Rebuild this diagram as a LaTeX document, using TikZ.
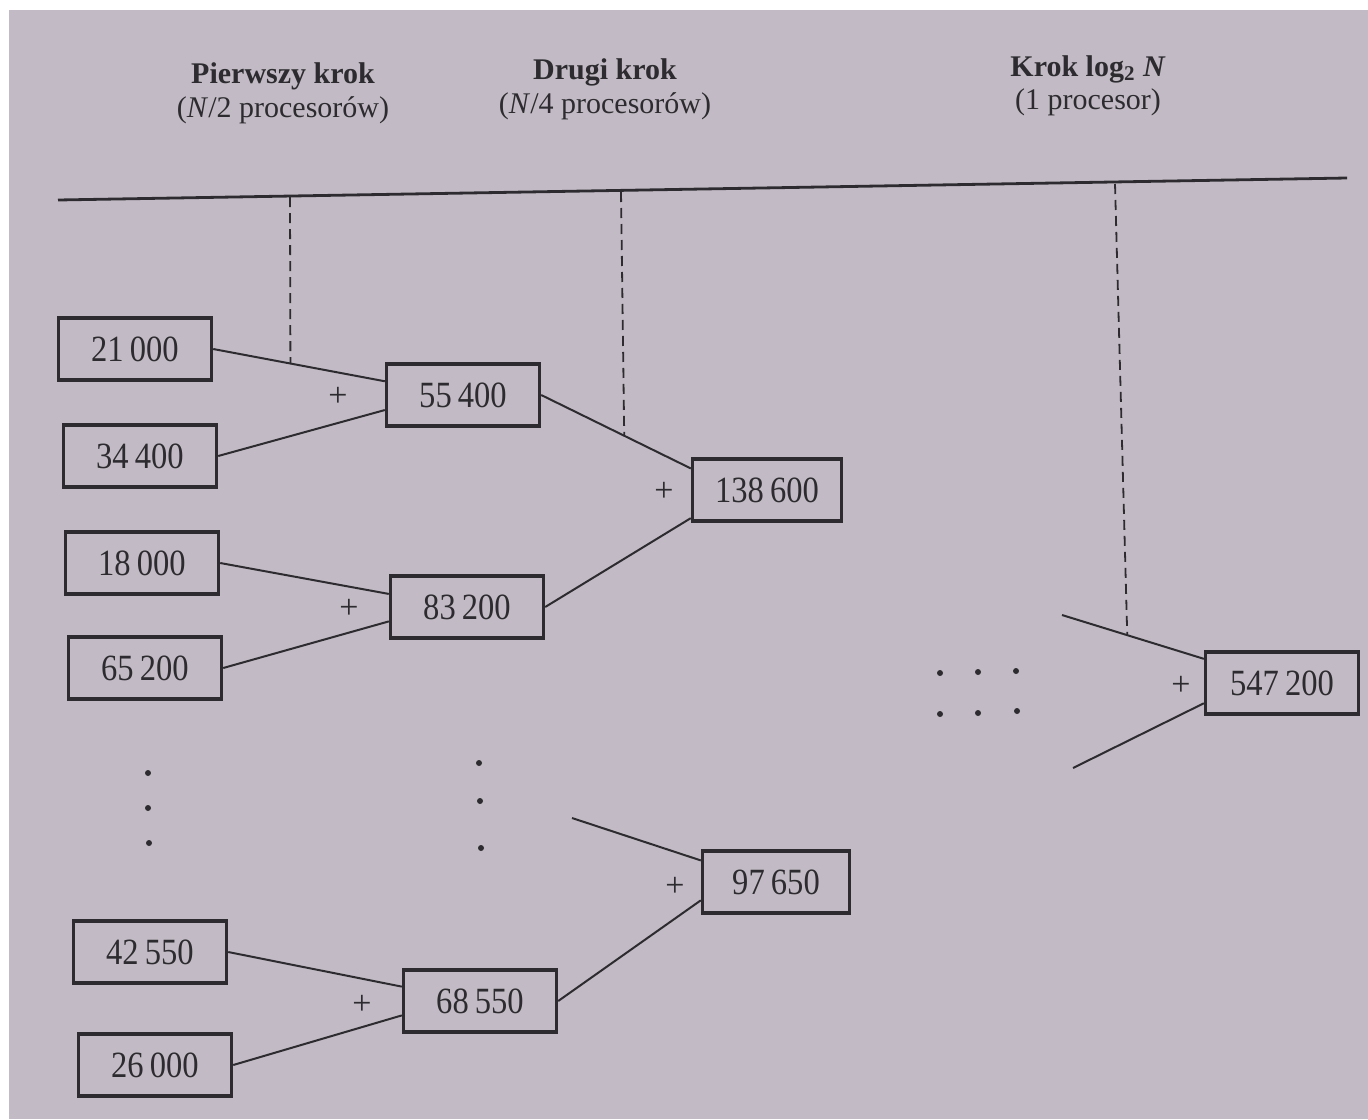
\documentclass[tikz,border=0pt]{standalone}
\usepackage{fontspec}
\setmainfont{Liberation Serif}
\newfontfamily\numfont[FakeStretch=0.88]{Liberation Serif}
\usetikzlibrary{calc}
\definecolor{paper}{RGB}{194,187,197}
\definecolor{ink}{RGB}{45,43,48}
\tikzset{
  box/.style={draw=ink, line width=1.7pt, minimum width=76.5pt, minimum height=31pt, inner sep=0pt,
    text=ink, font=\numfont\fontsize{18.5}{20}\selectfont},
  conn/.style={draw=ink, line width=1pt},
  guide/.style={draw=ink, line width=0.9pt, dash pattern=on 5pt off 3pt},
  plus/.style={text=ink, font=\fontsize{17}{19}\selectfont, inner sep=0pt},
  head/.style={text=ink, font=\fontsize{15}{17}\selectfont, inner sep=0pt, align=center},
  dot/.style={circle, fill=ink, inner sep=0pt, minimum size=3pt}
}
\begin{document}
\begin{tikzpicture}[x=0.5pt,y=-0.5pt]
\useasboundingbox (0,0) rectangle (1368,1119);
\fill[white] (0,0) rectangle (1368,1119);
\fill[paper] (9,10) rectangle (1368,1119);

% headers
\node[head] (h1a) at (283,76) {\textbf{Pierwszy krok}};
\node[head] (h1b) at (283,110) {(\textit{N}/2 procesorów)};
\node[head] (h2a) at (605,72) {\textbf{Drugi krok}};
\node[head] (h2b) at (605,106) {(\textit{N}/4 procesorów)};
\node[head] (h3a) at (1088,69) {\textbf{Krok log\textsubscript{2} \textit{N}}};
\node[head] (h3b) at (1088,102) {(1 procesor)};

% rule
\coordinate (rl) at (58,200);
\coordinate (rr) at (1347,178);
\draw[draw=ink, line width=1.4pt] (rl) -- (rr);

% boxes
\node[box] (a1) at (135,349) {21\,000};
\node[box] (a2) at (140,456) {34\,400};
\node[box] (a3) at (142,563) {18\,000};
\node[box] (a4) at (145,668) {65\,200};
\node[box] (a5) at (150,952) {42\,550};
\node[box] (a6) at (155,1065) {26\,000};
\node[box] (b1) at (463,395) {55\,400};
\node[box] (b2) at (467,607) {83\,200};
\node[box] (b3) at (480,1001) {68\,550};
\node[box, minimum width=74.5pt] (c1) at (767,490) {138\,600};
\node[box, minimum width=73.5pt] (c2) at (776,882) {97\,650};
\node[box] (d1) at (1282,683) {547\,200};

% connectors
\draw[conn] (a1.east) -- coordinate[pos=0.45] (m1) ($(b1.north west)!0.29!(b1.south west)$);
\draw[conn] (a2.east) -- ($(b1.north west)!0.73!(b1.south west)$);
\draw[conn] (a3.east) -- ($(b2.north west)!0.30!(b2.south west)$);
\draw[conn] (a4.east) -- ($(b2.north west)!0.72!(b2.south west)$);
\draw[conn] (a5.east) -- ($(b3.north west)!0.28!(b3.south west)$);
\draw[conn] (a6.east) -- ($(b3.north west)!0.72!(b3.south west)$);
\draw[conn] (b1.east) -- coordinate[pos=0.555] (m2) ($(c1.north west)!0.17!(c1.south west)$);
\draw[conn] (b2.east) -- ($(c1.north west)!0.93!(c1.south west)$);
\draw[conn] (b3.east) -- ($(c2.north west)!0.78!(c2.south west)$);
\coordinate (f1) at (572,818);
\draw[conn] (f1) -- ($(c2.north west)!0.17!(c2.south west)$);
\coordinate (f2) at (1062,615);
\coordinate (f3) at (1073,768);
\draw[conn] (f2) -- coordinate[pos=0.46] (m3) ($(d1.north west)!0.13!(d1.south west)$);
\draw[conn] (f3) -- ($(d1.north west)!0.81!(d1.south west)$);

% dashed guides
\coordinate (g1) at (290,197);
\coordinate (g2) at (621,192);
\coordinate (g3) at (1115,184);
\draw[guide] (g1) -- (m1);
\draw[guide] (g2) -- (m2);
\draw[guide] (g3) -- (m3);

% plus signs
\node[plus] (p1) at (338,397) {+};
\node[plus] (p2) at (349,609) {+};
\node[plus] (p3) at (664,492) {+};
\node[plus] (p4) at (675,887) {+};
\node[plus] (p5) at (362,1005) {+};
\node[plus] (p6) at (1181,686) {+};

% ellipsis dots
\node[dot] (v1) at (148,773) {};
\node[dot] (v2) at (148,808) {};
\node[dot] (v3) at (149,843) {};
\node[dot] (w1) at (479,763) {};
\node[dot] (w2) at (480,801) {};
\node[dot] (w3) at (481,848) {};
\node[dot] (x1) at (940,673) {};
\node[dot] (x2) at (978,672) {};
\node[dot] (x3) at (1016,671) {};
\node[dot] (x4) at (940,714) {};
\node[dot] (x5) at (978,713) {};
\node[dot] (x6) at (1017,711) {};
\end{tikzpicture}
\end{document}
